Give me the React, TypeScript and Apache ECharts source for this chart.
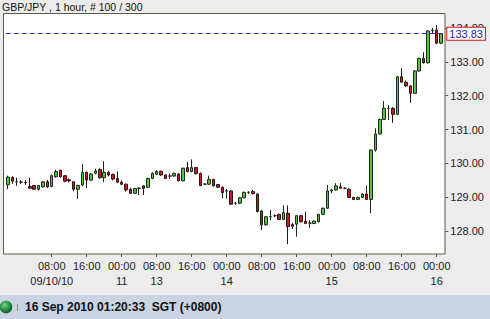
import React, { useEffect, useRef } from "react";
import * as echarts from "echarts";

// Trading sessions (SGT), hourly candles
const sessionStarts = ["2010-09-09T22:00", "2010-09-13T05:00"];
const sessionHours = [31, 69];

// [open, close, low, high]
const opens = [
  129.37, 129.59, 129.46, 129.45, 129.44, 129.32, 129.35, 129.24, 129.31, 129.46,
  129.32, 129.61, 129.80, 129.64, 129.52, 129.46, 129.24, 129.37, 129.74, 129.51,
  129.71, 129.82, 129.58, 129.74, 129.68, 129.56, 129.45, 129.39, 129.24, 129.12,
  129.27, 129.34, 129.30, 129.56, 129.68, 129.77, 129.66, 129.63, 129.63, 129.69,
  129.49, 129.88, 129.76, 129.88, 129.71, 129.39, 129.39, 129.53, 129.38, 129.30,
  129.19, 129.19, 128.83, 128.83, 128.99, 129.15, 129.17, 129.10, 128.60, 128.19,
  128.43, 128.46, 128.50, 128.35, 128.53, 128.20, 128.21, 128.46, 128.30, 128.24,
  128.23, 128.28, 128.50, 128.68, 129.19, 129.22, 129.31, 129.27, 129.24, 129.00,
  128.94, 129.00, 129.10, 128.94, 130.40, 130.87, 131.30, 131.63, 131.63, 131.45,
  132.56, 132.40, 132.29, 132.07, 132.73, 133.10, 132.97, 133.91, 133.94, 133.55,
];
const closes = [
  129.60, 129.48, 129.46, 129.45, 129.43, 129.27, 129.24, 129.35, 129.46, 129.31,
  129.64, 129.76, 129.61, 129.48, 129.49, 129.24, 129.35, 129.74, 129.51, 129.69,
  129.78, 129.58, 129.74, 129.66, 129.54, 129.45, 129.39, 129.22, 129.12, 129.26,
  129.27, 129.27, 129.56, 129.71, 129.77, 129.66, 129.56, 129.63, 129.71, 129.49,
  129.86, 129.76, 129.88, 129.70, 129.35, 129.39, 129.53, 129.34, 129.30, 129.14,
  129.19, 128.80, 128.83, 128.99, 129.15, 129.15, 129.11, 128.58, 128.19, 128.43,
  128.43, 128.46, 128.35, 128.55, 128.14, 128.15, 128.46, 128.28, 128.23, 128.24,
  128.30, 128.50, 128.68, 129.19, 129.22, 129.34, 129.27, 129.27, 129.00, 128.94,
  129.00, 129.10, 128.94, 130.40, 130.87, 131.30, 131.63, 131.63, 131.45, 132.56,
  132.40, 132.29, 132.07, 132.73, 133.10, 132.97, 133.91, 133.93, 133.55, 133.83,
];
const lows = [
  129.24, 129.40, 129.34, 129.39, 129.37, 129.25, 129.22, 129.20, 129.29, 129.28,
  129.30, 129.58, 129.58, 129.45, 129.44, 129.18, 128.95, 129.33, 129.28, 129.48,
  129.68, 129.55, 129.45, 129.62, 129.50, 129.42, 129.36, 129.17, 129.10, 129.10,
  129.07, 129.07, 129.28, 129.54, 129.66, 129.64, 129.54, 129.55, 129.61, 129.47,
  129.47, 129.74, 129.74, 129.68, 129.33, 129.36, 129.37, 129.32, 129.28, 128.98,
  128.97, 128.78, 128.78, 128.80, 128.97, 129.10, 129.09, 128.56, 128.04, 128.17,
  128.33, 128.42, 128.33, 128.33, 127.62, 128.07, 127.84, 128.26, 128.21, 128.10,
  128.21, 128.26, 128.48, 128.66, 129.12, 129.20, 129.25, 129.24, 128.98, 128.92,
  128.92, 128.98, 128.92, 128.53, 130.35, 130.85, 131.28, 131.28, 131.20, 131.43,
  132.38, 132.26, 131.79, 132.05, 132.71, 132.95, 132.95, 133.85, 133.52, 133.52,
];
const highs = [
  129.64, 129.62, 129.58, 129.51, 129.51, 129.58, 129.37, 129.37, 129.48, 129.52,
  129.68, 129.82, 129.82, 129.66, 129.56, 129.48, 129.37, 129.98, 129.76, 129.72,
  129.85, 129.86, 130.07, 129.78, 129.70, 129.77, 129.50, 129.41, 129.27, 129.28,
  129.30, 129.36, 129.58, 129.74, 129.80, 129.79, 129.68, 129.70, 129.73, 129.71,
  129.88, 130.05, 130.12, 129.90, 129.73, 129.42, 129.64, 129.55, 129.40, 129.32,
  129.25, 129.22, 128.86, 129.01, 129.17, 129.18, 129.22, 129.12, 128.62, 128.45,
  128.63, 128.50, 128.52, 128.76, 128.76, 128.25, 128.48, 128.48, 128.58, 128.33,
  128.32, 128.52, 128.70, 129.37, 129.25, 129.42, 129.42, 129.30, 129.27, 129.02,
  129.02, 129.12, 129.35, 130.42, 131.04, 131.33, 131.84, 131.72, 131.66, 132.58,
  132.81, 132.45, 132.31, 132.75, 133.12, 133.28, 133.93, 134.00, 134.08, 133.85,
];

const lastPrice = 133.83;
const yTicks = [128, 129, 130, 131, 132, 133, 134];

// x tick labels: [category, date line]
const xTicks: [string, string][] = [
  ["09/10 08:00", "09/10/10"],
  ["09/10 16:00", ""],
  ["09/11 00:00", "11"],
  ["09/13 08:00", "13"],
  ["09/13 16:00", ""],
  ["09/14 00:00", "14"],
  ["09/14 08:00", ""],
  ["09/14 16:00", ""],
  ["09/15 00:00", "15"],
  ["09/15 08:00", ""],
  ["09/15 16:00", ""],
  ["09/16 00:00", "16"],
];

const titleText = "GBP/JPY , 1 hour, # 100 / 300";
const statusText = "16 Sep 2010 01:20:33  SGT (+0800)";

const pad = (n: number) => (n < 10 ? "0" + n : "" + n);

function buildCategories(): string[] {
  const out: string[] = [];
  sessionStarts.forEach((s, k) => {
    const t0 = Date.parse(s + ":00Z");
    for (let h = 0; h < sessionHours[k]; h++) {
      const d = new Date(t0 + h * 3600000);
      out.push(
        pad(d.getUTCMonth() + 1) + "/" + pad(d.getUTCDate()) + " " + pad(d.getUTCHours()) + ":00"
      );
    }
  });
  return out;
}

export default function App() {
  const ref = useRef<HTMLDivElement>(null);
  useEffect(() => {
    document.body.style.margin = "0";
    const chart = echarts.init(ref.current!, null, { renderer: "svg" });
    const categories = buildCategories();
    const tickMap = new Map<string, string>(xTicks);
    const data = opens.map((o, i) => [o, closes[i], lows[i], highs[i]]);
    const font = "Liberation Sans";
    chart.setOption({
      animation: false,
      backgroundColor: "#ececec",
      title: {
        text: titleText,
        left: 2,
        top: 1,
        padding: 0,
        textStyle: { fontSize: 10.5, fontWeight: "normal", color: "#111", fontFamily: font },
      },
      grid: { left: 5.8, width: 437.5, top: 13, bottom: 65 },
      xAxis: {
        type: "category",
        data: categories,
        boundaryGap: true,
        axisLine: { show: false },
        axisTick: {
          show: true,
          alignWithLabel: true,
          length: 3,
          interval: (_i: number, v: string) => tickMap.has(v),
          lineStyle: { color: "#555" },
        },
        axisLabel: {
          interval: (_i: number, v: string) => tickMap.has(v),
          formatter: (v: string) => {
            const d = tickMap.get(v);
            const t = v.slice(6);
            return d ? t + "\n" + d : t;
          },
          margin: 4,
          lineHeight: 15,
          fontSize: 11,
          color: "#222",
          fontFamily: font,
        },
        splitLine: { show: false },
      },
      yAxis: {
        type: "value",
        position: "right",
        offset: 2,
        min: 127.33,
        max: 134.44,
        axisLine: { show: false },
        axisTick: { show: true, length: 3, customValues: yTicks, lineStyle: { color: "#555" } },
        axisLabel: {
          customValues: yTicks,
          formatter: (v: number) => v.toFixed(2),
          margin: 5,
          fontSize: 11,
          color: "#222",
          fontFamily: font,
        },
        splitLine: { show: false },
      },
      graphic: [
        { type: "rect", z: -100, shape: { x: 3, y: 13, width: 442, height: 241 }, style: { fill: "#ffffff" } },
        { type: "rect", z: 100, shape: { x: 3.5, y: 13.5, width: 441.5, height: 240.5 }, style: { fill: "none", stroke: "#5a5a48", lineWidth: 1 } },
        { type: "rect", z: 100, shape: { x: 0, y: 295, width: 490, height: 24 }, style: { fill: "#c9d3e2" } },
        {
          type: "circle",
          z: 101,
          shape: { cx: 6, cy: 307, r: 6.3 },
          style: {
            fill: new echarts.graphic.RadialGradient(0.4, 0.35, 0.7, [
              { offset: 0, color: "#7fd08a" },
              { offset: 0.6, color: "#1e8a3c" },
              { offset: 1, color: "#0d5a24" },
            ]),
          },
        },
        { type: "line", z: 101, shape: { x1: 17.5, y1: 304, x2: 17.5, y2: 311 }, style: { stroke: "#8a8a8a", lineWidth: 1 } },
        {
          type: "text",
          z: 101,
          x: 25,
          y: 307,
          style: { text: statusText, font: "bold 12px Liberation Sans", fill: "#111", verticalAlign: "middle" },
        },
      ],
      series: [
        {
          type: "candlestick",
          data,
          barWidth: 3,
          itemStyle: {
            color: "#55c438",
            color0: "#c41b2b",
            borderColor: "#1c2a1c",
            borderColor0: "#2a1414",
            borderWidth: 1,
          },
          markLine: {
            silent: true,
            symbol: ["none", "none"],
            data: [{ yAxis: lastPrice }],
            lineStyle: { color: "#2a2ac0", type: [5, 3], width: 1 },
            label: {
              show: true,
              position: "end",
              distance: 4,
              formatter: () => lastPrice.toFixed(2),
              backgroundColor: "#ffffff",
              borderColor: "#d01818",
              borderWidth: 1,
              padding: [1, 2, 0, 2],
              color: "#2222aa",
              fontSize: 11,
              fontFamily: font,
            },
          },
        },
      ],
    });
    return () => chart.dispose();
  }, []);
  return <div ref={ref} style={{ position: "fixed", left: 0, top: 0, width: 490, height: 319 }} />;
}
